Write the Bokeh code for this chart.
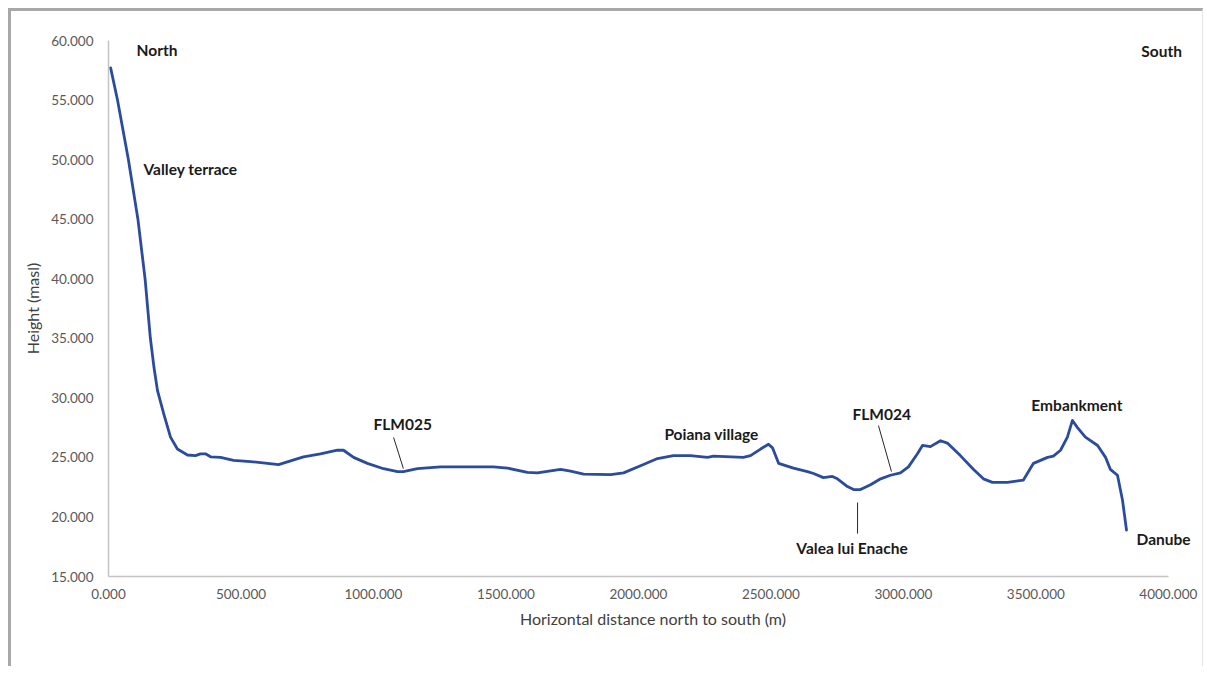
from bokeh.plotting import figure
from bokeh.models import NumeralTickFormatter, FixedTicker, Range1d, ColumnDataSource, LabelSet
from bokeh.core.properties import value
from bokeh.embed import file_html
from bokeh.resources import INLINE

# ---- profile data (distance m, height masl) ----
distance = [8, 34, 75, 111, 138, 158, 172, 185, 208, 234, 260, 298, 328, 347, 366, 385,
            423, 472, 536, 600, 642, 687, 736, 800, 864, 887, 925, 977, 1038, 1091,
            1113, 1166, 1253, 1328, 1453, 1506, 1581, 1619, 1706, 1744, 1793, 1895,
            1944, 2008, 2072, 2132, 2196, 2261, 2283, 2396, 2423, 2461, 2491, 2506,
            2529, 2585, 2638, 2661, 2698, 2732, 2751, 2789, 2812, 2838, 2876, 2914,
            2951, 2989, 3019, 3053, 3072, 3102, 3140, 3166, 3215, 3264, 3302, 3336,
            3393, 3453, 3491, 3544, 3566, 3593, 3619, 3638, 3657, 3687, 3733, 3763,
            3781, 3808, 3827, 3842]
height = [57.7, 55.0, 50.0, 45.0, 40.0, 35.0, 32.5, 30.6, 28.7, 26.7, 25.7, 25.2, 25.15,
          25.3, 25.3, 25.05, 25.0, 24.75, 24.65, 24.5, 24.4, 24.7, 25.05, 25.3, 25.6,
          25.6, 25.0, 24.5, 24.05, 23.8, 23.8, 24.05, 24.2, 24.2, 24.2, 24.1, 23.75,
          23.7, 24.0, 23.85, 23.6, 23.55, 23.7, 24.3, 24.9, 25.15, 25.15, 25.0, 25.1,
          25.0, 25.15, 25.7, 26.1, 25.8, 24.5, 24.1, 23.8, 23.65, 23.3, 23.4, 23.2,
          22.55, 22.3, 22.3, 22.7, 23.2, 23.5, 23.7, 24.2, 25.3, 26.0, 25.9, 26.4,
          26.2, 25.15, 24.0, 23.2, 22.9, 22.9, 23.1, 24.5, 25.0, 25.1, 25.6, 26.7,
          28.1, 27.5, 26.7, 26.0, 25.0, 24.0, 23.5, 21.4, 18.9]

x_ticks = [0, 500, 1000, 1500, 2000, 2500, 3000, 3500, 4000]
y_ticks = [15, 20, 25, 30, 35, 40, 45, 50, 55, 60]

# ---- annotations ----
label_text = ["North", "South", "Valley terrace", "FLM025", "Poiana village",
              "FLM024", "Valea lui Enache", "Embankment", "Danube"]
label_x = [106, 3898, 132, 1000, 2098, 2808, 2596, 3483, 3880]
label_y = [59.24, 59.16, 49.17, 27.84, 27.0, 28.68, 17.43, 29.44, 18.19]

leader_x0 = [1076, 2906, 2827]
leader_y0 = [26.67, 27.67, 21.21]
leader_x1 = [1113, 2955, 2827]
leader_y1 = [24.06, 23.81, 18.6]

FONT = "Lato"

p = figure(width=1195, height=658, output_backend="svg", toolbar_location=None,
           x_range=Range1d(0, 4110), y_range=Range1d(15, 60),
           min_border_left=97, min_border_right=9, min_border_top=29,
           min_border_bottom=93, background_fill_color="white",
           border_fill_color="white")
p.title = None
p.styles = {"margin-left": "8px", "margin-top": "8px",
            "border-top": "3px solid #a8a8a8", "border-left": "3px solid #a8a8a8",
            "border-right": "1px solid #e6e6e6"}
p.outline_line_color = None
p.grid.visible = False

for ax in (p.xaxis[0], p.yaxis[0]):
    ax.axis_line_color = "#c4c4c4"
    ax.axis_line_width = 1.5
    ax.major_tick_line_color = None
    ax.minor_tick_line_color = None
    ax.major_tick_out = 0
    ax.major_tick_in = 0
    ax.minor_tick_out = 0
    ax.major_label_text_font = FONT
    ax.major_label_text_font_size = "13.5px"
    ax.major_label_text_color = "#595959"
    ax.formatter = NumeralTickFormatter(format="0.000")
    ax.axis_label_text_font = FONT
    ax.axis_label_text_font_size = "16px"
    ax.axis_label_text_color = "#404040"
    ax.axis_label_text_font_style = "normal"

p.xaxis[0].ticker = FixedTicker(ticks=x_ticks)
p.xaxis[0].bounds = (0, 4000)
p.yaxis[0].ticker = FixedTicker(ticks=y_ticks)
p.xaxis[0].axis_label = "Horizontal distance north to south (m)"
p.yaxis[0].axis_label = "Height (masl)"
p.xaxis[0].major_label_standoff = 12
p.yaxis[0].major_label_standoff = 15
p.xaxis[0].axis_label_standoff = 7
p.yaxis[0].axis_label_standoff = 6

p.line(distance, height, line_color="#2B4C9E", line_width=2.8,
       line_join="round", line_cap="round")

p.segment(x0=leader_x0, y0=leader_y0, x1=leader_x1, y1=leader_y1,
          line_color="#262626", line_width=1)

src = ColumnDataSource(dict(x=label_x, y=label_y, t=label_text))
labels = LabelSet(x="x", y="y", text="t", source=src, text_font=value(FONT),
                  text_font_size="15.5px", text_font_style="bold",
                  text_color="#1a1a1a", text_baseline="middle", text_align="left")
p.add_layout(labels)

open("out.html", "w").write(file_html(p, INLINE))
